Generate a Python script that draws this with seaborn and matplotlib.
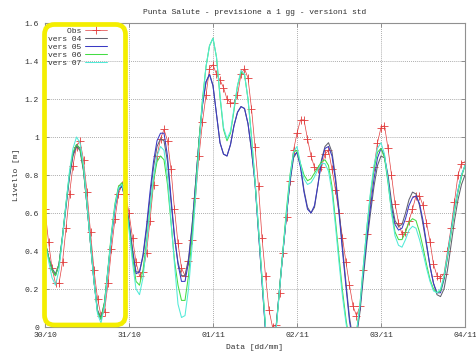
import matplotlib
matplotlib.use("Agg")
import matplotlib.pyplot as plt
import seaborn as sns
from matplotlib.patches import FancyBboxPatch
from matplotlib.transforms import IdentityTransform

title = "Punta Salute - previsione a 1 gg - versioni std"
x_label = "Data [dd/mm]"
y_label = "Livello [m]"
day_labels = ['30/10', '31/10', '01/11', '02/11', '03/11', '04/11']
y_ticks = [0, 0.2, 0.4, 0.6, 0.8, 1.0, 1.2, 1.4, 1.6]
y_tick_labels = ['0', '0.2', '0.4', '0.6', '0.8', '1', '1.2', '1.4', '1.6']
series_names = ['Obs', 'vers 04', 'vers 05', 'vers 06', 'vers 07']

hours = list(range(121))

obs = [0.62, 0.45, 0.31, 0.23, 0.23, 0.34, 0.52, 0.70, 0.85, 0.95,
       0.98, 0.88, 0.71, 0.50, 0.30, 0.15, 0.06, 0.08, 0.23, 0.41,
       0.57, 0.70, 0.75, 0.70, 0.60, 0.47, 0.34, 0.27, 0.29, 0.39,
       0.56, 0.75, 0.90, 0.99, 1.04, 0.98, 0.83, 0.62, 0.44, 0.31,
       0.27, 0.35, 0.46, 0.68, 0.90, 1.08, 1.22, 1.36, 1.38, 1.33,
       1.30, 1.26, 1.20, 1.18, 1.18, 1.22, 1.33, 1.36, 1.31, 1.15,
       0.95, 0.74, 0.47, 0.27, 0.09, 0.00, 0.01, 0.18, 0.39, 0.58,
       0.77, 0.93, 1.02, 1.09, 1.09, 0.99, 0.90, 0.84, 0.83, 0.84,
       0.91, 0.93, 0.83, 0.72, 0.60, 0.47, 0.34, 0.22, 0.11, 0.06,
       0.11, 0.30, 0.49, 0.67, 0.84, 0.97, 1.05, 1.06, 0.94, 0.80,
       0.65, 0.55, 0.49, 0.50, 0.56, 0.62, 0.69, 0.69, 0.64, 0.55,
       0.45, 0.33, 0.27, 0.26, 0.28, 0.40, 0.52, 0.66, 0.80, 0.86, 0.87]

vers04 = [0.45, 0.37, 0.31, 0.28, 0.33, 0.47, 0.63, 0.79, 0.90, 0.95,
          0.93, 0.82, 0.64, 0.44, 0.24, 0.09, 0.05, 0.13, 0.30, 0.48,
          0.63, 0.72, 0.74, 0.67, 0.55, 0.41, 0.29, 0.29, 0.37, 0.51,
          0.68, 0.84, 0.95, 0.99, 0.98, 0.87, 0.66, 0.47, 0.34, 0.27,
          0.27, 0.36, 0.53, 0.75, 0.98, 1.17, 1.29, 1.33, 1.27, 1.12,
          0.97, 0.91, 0.90, 0.96, 1.06, 1.13, 1.16, 1.15, 1.07, 0.93,
          0.76, 0.50, 0.24, -0.02, -0.15, -0.17, -0.01, 0.20, 0.40, 0.59,
          0.76, 0.89, 0.92, 0.85, 0.72, 0.63, 0.60, 0.63, 0.75, 0.88,
          0.95, 0.97, 0.92, 0.79, 0.62, 0.42, 0.23, 0.05, -0.07, -0.05,
          0.08, 0.27, 0.45, 0.60, 0.74, 0.85, 0.90, 0.89, 0.80, 0.66,
          0.56, 0.53, 0.54, 0.60, 0.67, 0.71, 0.70, 0.64, 0.54, 0.43,
          0.32, 0.23, 0.17, 0.16, 0.20, 0.30, 0.43, 0.56, 0.67, 0.75, 0.80]

vers05 = [0.45, 0.37, 0.30, 0.27, 0.33, 0.48, 0.64, 0.80, 0.91, 0.96,
          0.94, 0.83, 0.64, 0.44, 0.24, 0.08, 0.04, 0.12, 0.30, 0.48,
          0.63, 0.73, 0.74, 0.67, 0.55, 0.40, 0.28, 0.29, 0.38, 0.53,
          0.71, 0.87, 0.98, 1.02, 1.02, 0.90, 0.68, 0.48, 0.33, 0.24,
          0.24, 0.34, 0.52, 0.75, 0.98, 1.17, 1.29, 1.33, 1.27, 1.12,
          0.97, 0.91, 0.90, 0.96, 1.06, 1.13, 1.16, 1.15, 1.07, 0.93,
          0.76, 0.50, 0.24, -0.02, -0.15, -0.17, -0.01, 0.20, 0.40, 0.59,
          0.77, 0.90, 0.92, 0.84, 0.71, 0.62, 0.60, 0.64, 0.75, 0.87,
          0.94, 0.95, 0.90, 0.77, 0.60, 0.40, 0.21, 0.03, -0.08, -0.04,
          0.10, 0.30, 0.48, 0.63, 0.78, 0.89, 0.94, 0.90, 0.78, 0.63,
          0.54, 0.51, 0.52, 0.57, 0.64, 0.68, 0.69, 0.65, 0.56, 0.44,
          0.32, 0.23, 0.18, 0.18, 0.25, 0.37, 0.50, 0.62, 0.72, 0.80, 0.85]

vers06 = [0.45, 0.37, 0.30, 0.27, 0.33, 0.48, 0.65, 0.81, 0.92, 0.96,
          0.94, 0.83, 0.64, 0.44, 0.24, 0.08, 0.04, 0.13, 0.31, 0.50,
          0.65, 0.74, 0.76, 0.68, 0.53, 0.37, 0.24, 0.22, 0.30, 0.45,
          0.62, 0.77, 0.87, 0.90, 0.88, 0.75, 0.55, 0.35, 0.22, 0.14,
          0.14, 0.27, 0.47, 0.72, 0.98, 1.20, 1.37, 1.48, 1.52, 1.42,
          1.21, 1.04, 0.98, 1.02, 1.14, 1.27, 1.34, 1.33, 1.20, 1.00,
          0.77, 0.52, 0.26, 0.00, -0.15, -0.17, -0.02, 0.20, 0.41, 0.62,
          0.80, 0.92, 0.93, 0.86, 0.80, 0.77, 0.78, 0.81, 0.84, 0.87,
          0.88, 0.85, 0.74, 0.56, 0.37, 0.19, 0.04, -0.08, -0.10, -0.03,
          0.12, 0.33, 0.53, 0.70, 0.83, 0.92, 0.94, 0.89, 0.76, 0.61,
          0.50, 0.46, 0.46, 0.50, 0.55, 0.57, 0.56, 0.50, 0.42, 0.33,
          0.25, 0.20, 0.18, 0.19, 0.26, 0.37, 0.49, 0.61, 0.71, 0.79, 0.85]

vers07 = [0.45, 0.35, 0.26, 0.22, 0.30, 0.47, 0.65, 0.82, 0.94, 1.00,
          0.97, 0.85, 0.65, 0.44, 0.24, 0.07, 0.02, 0.11, 0.30, 0.49,
          0.64, 0.73, 0.75, 0.67, 0.51, 0.34, 0.20, 0.17, 0.26, 0.43,
          0.62, 0.79, 0.90, 0.95, 0.93, 0.79, 0.56, 0.33, 0.12, 0.05,
          0.06, 0.20, 0.42, 0.68, 0.95, 1.19, 1.37, 1.48, 1.52, 1.42,
          1.22, 1.05, 0.99, 1.03, 1.15, 1.27, 1.35, 1.33, 1.20, 1.00,
          0.77, 0.52, 0.26, 0.00, -0.15, -0.17, -0.02, 0.19, 0.40, 0.60,
          0.79, 0.92, 0.95, 0.86, 0.78, 0.75, 0.76, 0.79, 0.83, 0.86,
          0.86, 0.82, 0.71, 0.53, 0.34, 0.16, 0.02, -0.09, -0.10, -0.03,
          0.12, 0.33, 0.53, 0.71, 0.85, 0.94, 0.97, 0.91, 0.77, 0.60,
          0.48, 0.43, 0.42, 0.46, 0.51, 0.53, 0.52, 0.46, 0.39, 0.31,
          0.24, 0.19, 0.18, 0.20, 0.27, 0.38, 0.50, 0.62, 0.72, 0.80, 0.85]

for s in (obs, vers04, vers05, vers06, vers07):
    assert len(s) == len(hours), len(s)

colors = ['#e23c3c', '#62626e', '#3a3ac4', '#44dc44', '#52ead8']

sns.set_style("white")
plt.rcParams['font.family'] = ['Liberation Mono', 'DejaVu Sans Mono']
FS = 5.8
TXT = '#303030'

W, H = 477, 354
fig = plt.figure(figsize=(W / 100, H / 100), dpi=100)
L, R, T, B = 45, 465, 23, 327
ax = fig.add_axes([L / W, 1 - B / H, (R - L) / W, (B - T) / H])

all_series = [obs, vers04, vers05, vers06, vers07]
labels = ['    Obs', 'vers 04', 'vers 05', 'vers 06', 'vers 07']
for i, (vals, lab, col) in enumerate(zip(all_series, labels, colors)):
    if i == 0:
        sns.lineplot(x=hours, y=vals, ax=ax, color=col, lw=0.5, label=lab,
                     marker='+', markersize=5.5, markeredgewidth=0.6,
                     markeredgecolor=col, zorder=2)
    else:
        sns.lineplot(x=hours, y=vals, ax=ax, color=col, lw=0.75, label=lab,
                     zorder=2 + i)

ax.set_xlim(0, 120)
ax.set_ylim(0, 1.6)
ax.set_xticks([0, 24, 48, 72, 96, 120])
ax.set_xticklabels(day_labels)
ax.set_yticks(y_ticks)
ax.set_yticklabels(y_tick_labels)
ax.tick_params(direction='in', length=3, width=0.6, colors='#808080',
               labelcolor=TXT, labelsize=FS, top=True, right=True,
               bottom=True, left=True)
ax.tick_params(axis='y', pad=4.3)
ax.tick_params(axis='x', pad=3.8)
ax.grid(True, color='#808080', lw=0.5, linestyle=(0, (1.2, 1.6)))
for sp in ax.spines.values():
    sp.set_color('#909090')
    sp.set_linewidth(0.8)

ax.set_title(title, fontsize=FS, color=TXT, pad=6.5)
ax.set_xlabel(x_label, fontsize=FS, color=TXT, labelpad=3.5)
ax.set_ylabel(y_label, fontsize=FS, color=TXT, labelpad=3.5)

leg = ax.legend(loc='upper left', bbox_to_anchor=(0.006, 0.986), frameon=False,
                markerfirst=False, handlelength=2.75, handletextpad=0.5,
                labelspacing=0.05, borderaxespad=0, borderpad=0,
                prop={'family': ['Liberation Mono'], 'size': FS})
for t in leg.get_texts():
    t.set_color(TXT)

box = FancyBboxPatch((44.5, H - 325), 81, 300.5,
                     boxstyle="round,pad=0,rounding_size=10",
                     transform=IdentityTransform(), fill=False,
                     edgecolor='#f4ee00', lw=3.4, zorder=10)
fig.add_artist(box)

fig.savefig('out.png', dpi=100, facecolor='white')
